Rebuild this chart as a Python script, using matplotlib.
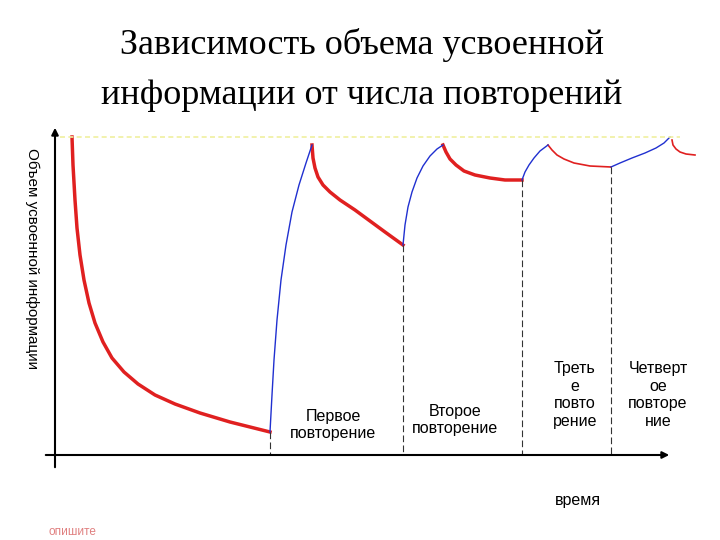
import matplotlib.pyplot as plt

# curve segments (pixel coords, y grows downward)
forget1_x = [72, 73, 75, 77, 80, 84, 89, 95, 103, 112, 124, 138, 155, 175, 200, 230, 270]
forget1_y = [137, 165, 200, 228, 255, 280, 303, 323, 342, 358, 372, 384, 395, 404, 413, 422, 432]
learn1_x = [270, 272, 274, 277, 281, 286, 292, 299, 306, 312]
learn1_y = [432, 395, 360, 320, 280, 245, 212, 185, 163, 145]
forget2_x = [312, 313, 315, 318, 323, 330, 340, 355, 370, 385, 403]
forget2_y = [145, 158, 168, 177, 185, 192, 200, 210, 221, 232, 245]
learn2_x = [403, 405, 408, 412, 417, 423, 430, 437, 443]
learn2_y = [245, 225, 207, 192, 178, 166, 156, 149, 145]
forget3_x = [443, 446, 450, 456, 464, 475, 490, 505, 522]
forget3_y = [145, 152, 159, 165, 171, 175, 178, 180, 180]
learn3_x = [522, 525, 529, 534, 540, 548]
learn3_y = [180, 172, 165, 158, 151, 145]
forget4_x = [548, 552, 557, 564, 574, 590, 611]
forget4_y = [145, 150, 155, 159, 163, 166, 167]
learn4_x = [611, 620, 632, 645, 656, 664, 668, 670]
learn4_y = [167, 163, 158, 153, 148, 143, 139, 137]
forget5_x = [672, 673, 676, 680, 686, 695]
forget5_y = [140, 145, 149, 152, 154, 155]
repeat_x = [270, 403, 522, 611]
repeat_y = [432, 245, 180, 167]

labels = ["Первое\nповторение", "Второе\nповторение", "Треть\nе\nповто\nрение", "Четверт\nое\nповторе\nние"]
label_x = [333, 455, 575, 658]
label_y = [425, 420, 395, 395]

plt.rcParams['font.family'] = ['Liberation Sans', 'DejaVu Sans']

fig = plt.figure(figsize=(7.2, 5.4), dpi=100)
ax = fig.add_axes([0, 0, 1, 1])
ax.set_xlim(0, 720)
ax.set_ylim(540, 0)
ax.axis('off')

red = '#e02020'
blue = '#2030d0'
for x, y in [(forget1_x, forget1_y), (forget2_x, forget2_y), (forget3_x, forget3_y)]:
    ax.plot(x, y, color=red, lw=2.5)
for x, y in [(forget4_x, forget4_y), (forget5_x, forget5_y)]:
    ax.plot(x, y, color=red, lw=1.2)
for x, y in [(learn1_x, learn1_y), (learn2_x, learn2_y), (learn3_x, learn3_y), (learn4_x, learn4_y)]:
    ax.plot(x, y, color=blue, lw=1)

for x, y in zip(repeat_x, repeat_y):
    ax.plot([x, x], [y, 455], color='#333333', lw=0.8, ls=(0, (6, 3)))

ax.plot([60, 680], [137, 137], color='#f0f0a0', lw=1.2, ls=(0, (3, 2)))

# axes with arrows
ax.annotate('', xy=(55, 125), xytext=(55, 470),
            arrowprops=dict(arrowstyle='-|>', color='black', lw=1.5))
ax.annotate('', xy=(672, 455), xytext=(43, 455),
            arrowprops=dict(arrowstyle='-|>', color='black', lw=1.5))

ax.text(362, 45, "Зависимость объема усвоенной", ha='center', va='center',
        fontsize=26, family='Liberation Serif')
ax.text(362, 95, "информации от числа повторений", ha='center', va='center',
        fontsize=26, family='Liberation Serif')
ax.text(32, 258, "Объем усвоенной информации", rotation=-90, ha='center', va='center',
        fontsize=11)
for t, x, y in zip(labels, label_x, label_y):
    ax.text(x, y, t, ha='center', va='center', fontsize=11.5)
ax.text(578, 500, "время", ha='center', va='center', fontsize=11.5)
ax.text(72, 532, "опишите", ha='center', va='center', fontsize=8.5, color='#e08080')

fig.savefig('out.png')
